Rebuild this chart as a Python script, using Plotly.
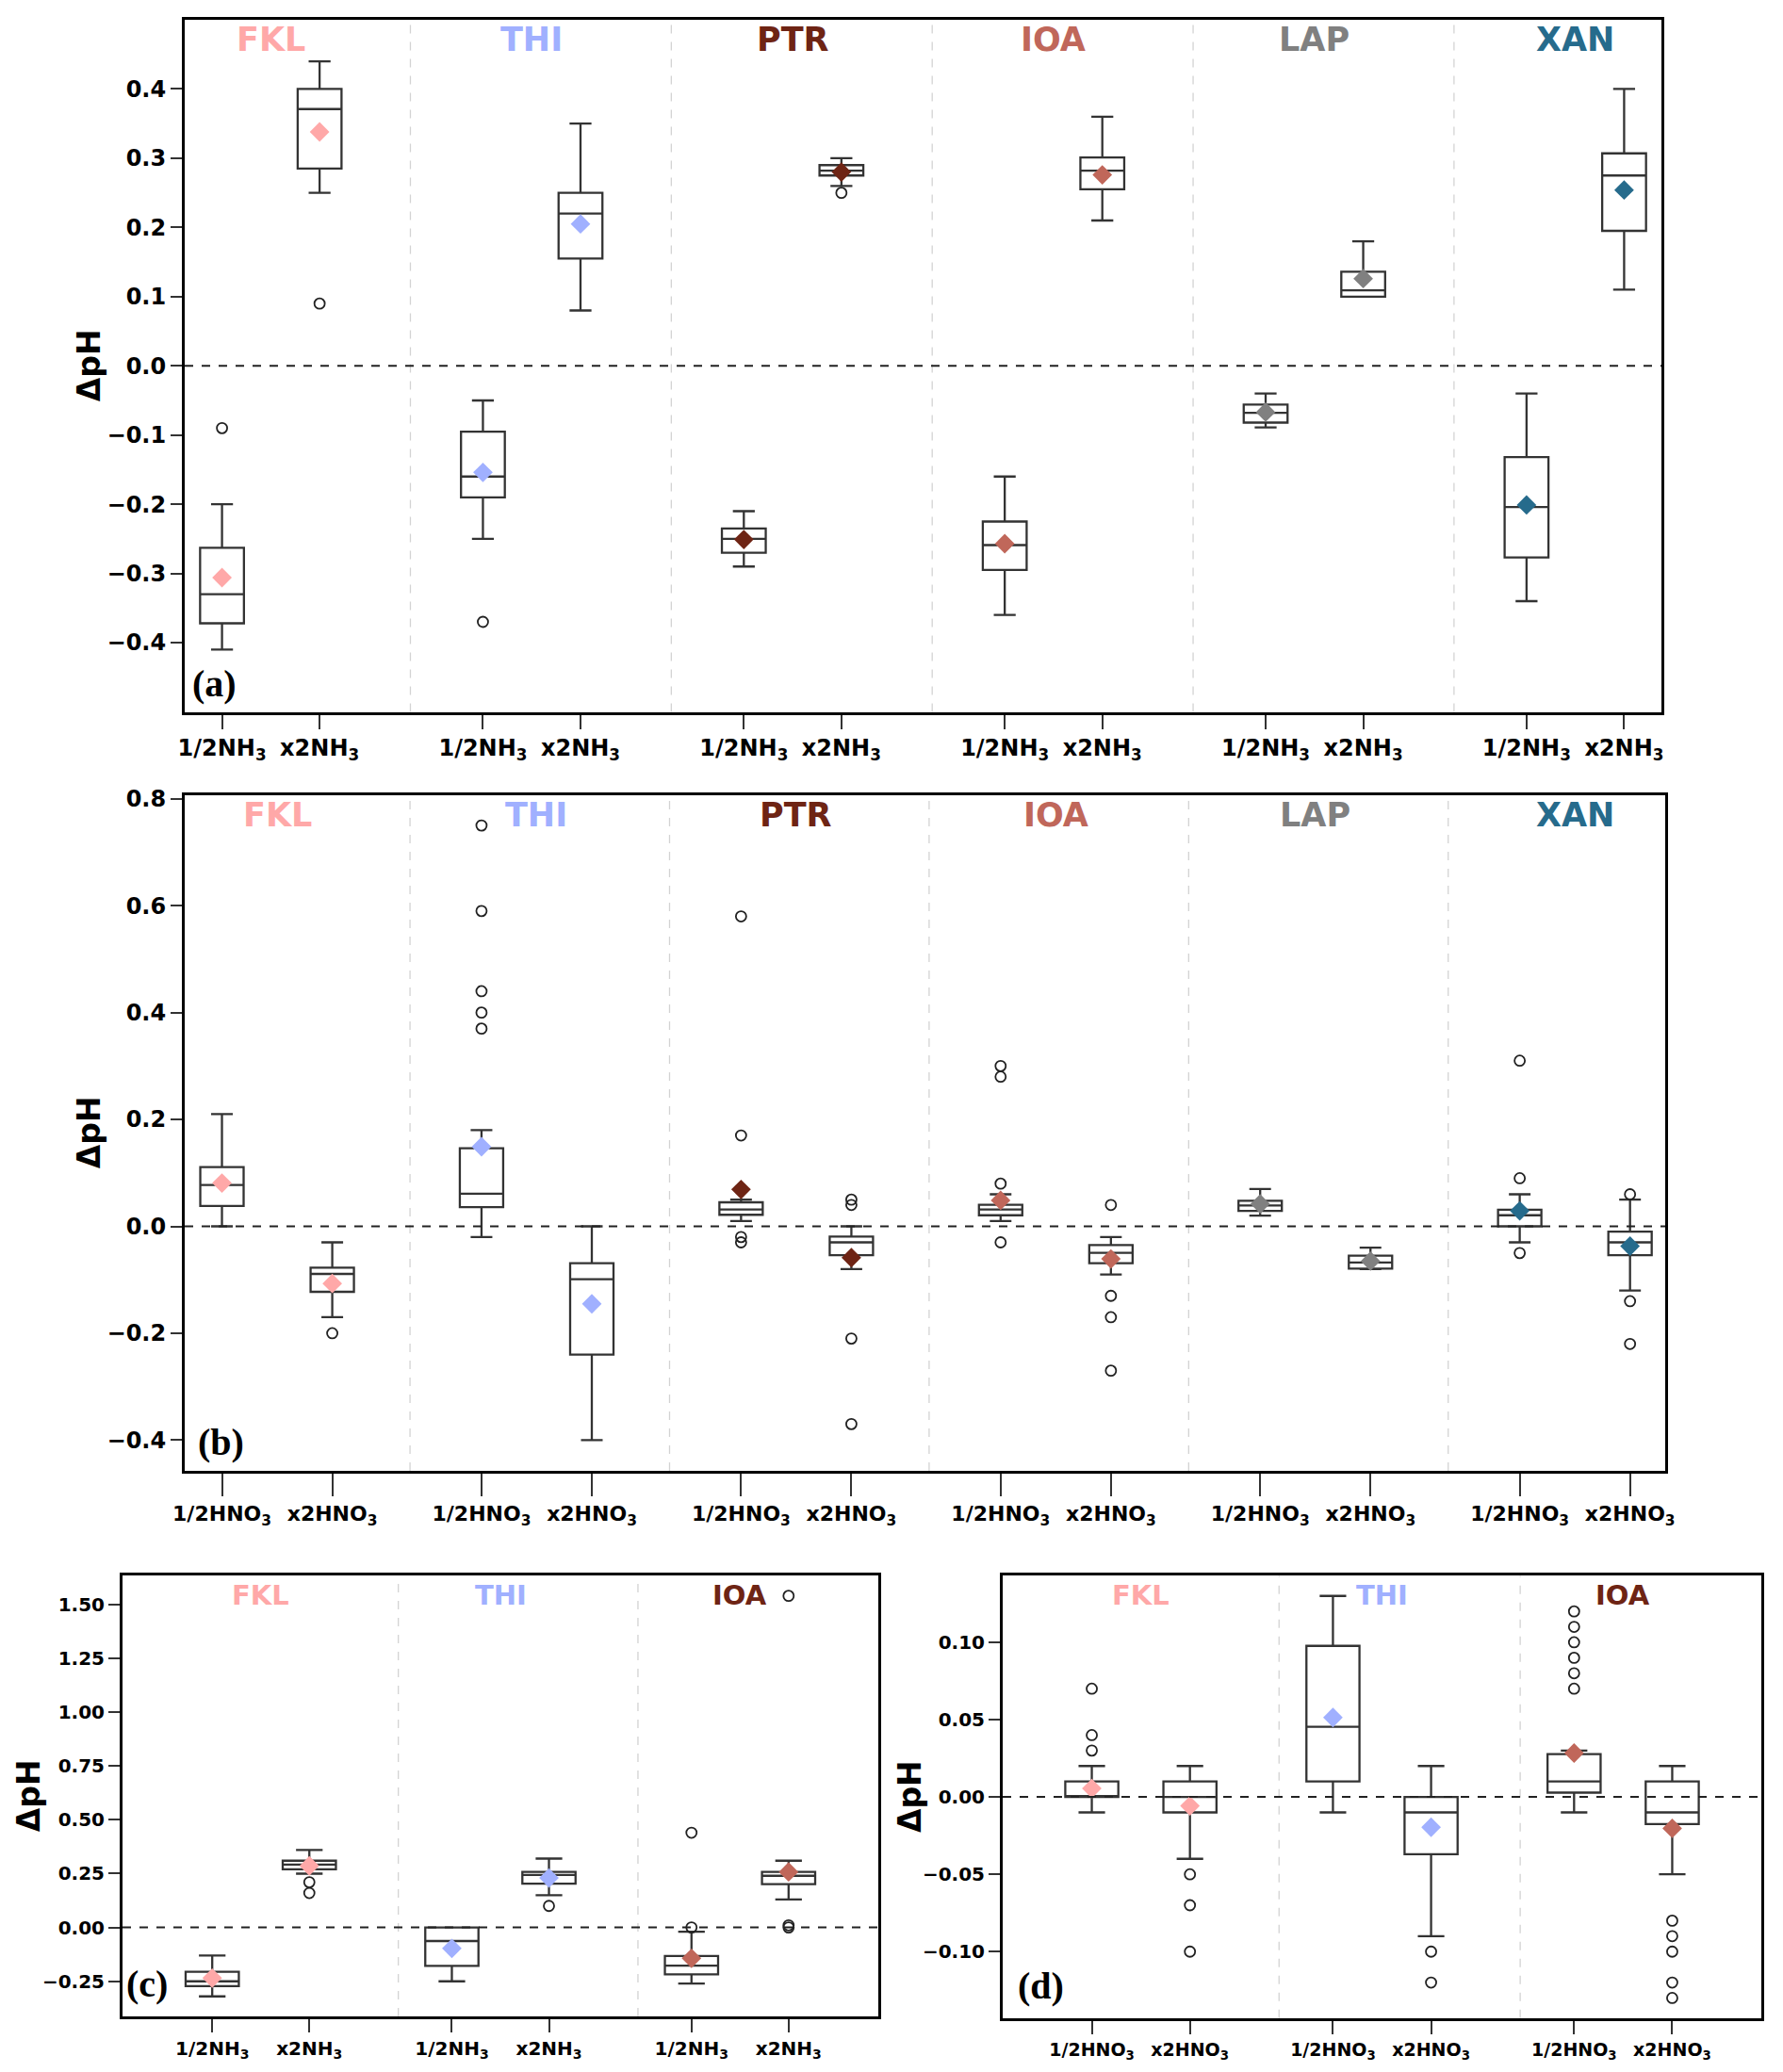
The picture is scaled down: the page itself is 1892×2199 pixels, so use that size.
#!/usr/bin/env python
"""
Box plots of pH change for the NH3 / HNO3 perturbation runs, four panels
"""

import plotly.graph_objs as go

W, H = 1892, 2199
PAGE_PAD = 8  # the page body margin pushes the plot this far right/down

# colours of the sites
SITE_COLORS = {"FKL": "#FFA8A8", "THI": "#A0B0FF", "PTR": "#6E2414",
               "IOA": "#C0675A", "LAP": "#808080", "XAN": "#266B8C"}

SITES_AB = ["FKL", "THI", "PTR", "IOA", "LAP", "XAN"]
SITES_CD = ["FKL", "THI", "IOA"]

NH3_LABELS = ["1/2NH<sub>3</sub>", "x2NH<sub>3</sub>"]
HNO3_LABELS = ["1/2HNO<sub>3</sub>", "x2HNO<sub>3</sub>"]

# panel (a): order FKL 1/2, FKL x2, THI 1/2, THI x2, ...
A_LO = [-0.41, 0.25, -0.25, 0.08, -0.29, 0.26, -0.36, 0.21, -0.089, 0.10, -0.34, 0.11]
A_Q1 = [-0.372, 0.285, -0.19, 0.155, -0.27, 0.275, -0.295, 0.255, -0.082, 0.10, -0.277, 0.195]
A_MED = [-0.33, 0.371, -0.16, 0.22, -0.25, 0.282, -0.259, 0.282, -0.068, 0.109, -0.204, 0.275]
A_Q3 = [-0.263, 0.40, -0.095, 0.25, -0.235, 0.29, -0.225, 0.301, -0.056, 0.136, -0.132, 0.307]
A_HI = [-0.20, 0.44, -0.05, 0.35, -0.21, 0.30, -0.16, 0.36, -0.04, 0.18, -0.04, 0.40]
A_MEAN = [-0.306, 0.338, -0.154, 0.205, -0.251, 0.28, -0.257, 0.276, -0.067, 0.126, -0.201, 0.254]
A_OUT = [[-0.09], [0.09], [-0.37], [], [], [0.25], [], [], [], [], [], []]

# panel (b)
B_LO = [0.0, -0.17, -0.02, -0.40, 0.01, -0.08, 0.01, -0.09, 0.02, -0.08, -0.03, -0.12]
B_Q1 = [0.038, -0.1225, 0.036, -0.24, 0.0216, -0.054, 0.0207, -0.069, 0.029, -0.079, 0.0, -0.054]
B_MED = [0.0775, -0.089, 0.061, -0.099, 0.0315, -0.03, 0.0315, -0.0495, 0.039, -0.0676, 0.0207, -0.03]
B_Q3 = [0.111, -0.0775, 0.146, -0.069, 0.045, -0.019, 0.0405, -0.035, 0.048, -0.055, 0.031, -0.01]
B_HI = [0.21, -0.03, 0.18, 0.0, 0.05, 0.0, 0.06, -0.02, 0.07, -0.04, 0.06, 0.05]
B_MEAN = [0.081, -0.107, 0.149, -0.145, 0.069, -0.0586, 0.0486, -0.061, 0.042, -0.065, 0.029, -0.037]
B_OUT = [[], [-0.20], [0.75, 0.59, 0.44, 0.40, 0.37], [], [0.58, 0.17, -0.02, -0.03],
         [0.05, 0.04, -0.21, -0.37], [0.30, 0.28, 0.08, -0.03], [0.04, -0.13, -0.17, -0.27],
         [], [], [0.31, 0.09, -0.05], [0.06, -0.14, -0.22]]

# panel (c)
C_LO = [-0.32, 0.25, -0.25, 0.15, -0.26, 0.13]
C_Q1 = [-0.272, 0.27, -0.178, 0.203, -0.218, 0.201]
C_MED = [-0.25, 0.292, -0.063, 0.244, -0.177, 0.24]
C_Q3 = [-0.206, 0.31, 0.0, 0.258, -0.132, 0.258]
C_HI = [-0.13, 0.36, 0.0, 0.32, -0.02, 0.31]
C_MEAN = [-0.235, 0.286, -0.097, 0.23, -0.143, 0.258]
C_OUT = [[], [0.21, 0.16], [], [0.10], [0.44, 0.0], [1.54, 0.01, 0.0]]

# panel (d)
D_LO = [-0.01, -0.04, -0.01, -0.09, -0.01, -0.05]
D_Q1 = [0.0, -0.01, 0.01, -0.037, 0.0028, -0.0175]
D_MED = [0.0, 0.0, 0.0454, -0.01, 0.01, -0.01]
D_Q3 = [0.01, 0.01, 0.0977, 0.0, 0.0277, 0.01]
D_HI = [0.02, 0.02, 0.13, 0.02, 0.03, 0.02]
D_MEAN = [0.0055, -0.0058, 0.0514, -0.0196, 0.0284, -0.0203]
D_OUT = [[0.07, 0.04, 0.03], [-0.05, -0.07, -0.10], [], [-0.10, -0.12],
         [0.12, 0.11, 0.10, 0.09, 0.08, 0.07], [-0.08, -0.09, -0.10, -0.12, -0.13]]

FONT = "DejaVu Sans"
BOXLINE = "#333333"


def px_x(x):
    return (x - PAGE_PAD) / W


def px_domain_x(left, right):
    return [px_x(left), px_x(right)]


def px_domain_y(top, bottom):
    return [1 - (bottom - PAGE_PAD) / H, 1 - (top - PAGE_PAD) / H]


PANELS = [
    dict(name="a", sites=SITES_AB, labels=NH3_LABELS, label_colors=None,
         lo=A_LO, q1=A_Q1, med=A_MED, q3=A_Q3, hi=A_HI, mean=A_MEAN, out=A_OUT,
         dx=px_domain_x(196, 1763), dy=px_domain_y(21, 755.5),
         off=0.187, width=0.168, sep=0.535, xr=[-0.33, 5.33], yr=[-0.5, 0.5],
         yticks=[-0.4, -0.3, -0.2, -0.1, 0.0, 0.1, 0.2, 0.3, 0.4], fmt=".1f",
         fs=24, xfs=24, xtl=15, tfs=35, ylab_x=94, letter_shift=(6, 6)),
    dict(name="b", sites=SITES_AB, labels=HNO3_LABELS, label_colors=None,
         lo=B_LO, q1=B_Q1, med=B_MED, q3=B_Q3, hi=B_HI, mean=B_MEAN, out=B_OUT,
         dx=px_domain_x(196, 1767), dy=px_domain_y(843.5, 1561),
         off=0.2125, width=0.167, sep=0.512, xr=[-0.356, 5.348], yr=[-0.4575, 0.8075],
         yticks=[-0.4, -0.2, 0.0, 0.2, 0.4, 0.6, 0.8], fmt=".1f",
         fs=24, xfs=22, xtl=24, tfs=35, ylab_x=94, letter_shift=(12, 6)),
    dict(name="c", sites=SITES_CD, labels=NH3_LABELS, label_colors={"IOA": "#6E2414"},
         lo=C_LO, q1=C_Q1, med=C_MED, q3=C_Q3, hi=C_HI, mean=C_MEAN, out=C_OUT,
         dx=px_domain_x(130, 932), dy=px_domain_y(1672.4, 2140),
         off=0.2026, width=0.222, sep=0.574, xr=[-0.577, 2.577], yr=[-0.413, 1.633],
         yticks=[-0.25, 0.0, 0.25, 0.5, 0.75, 1.0, 1.25, 1.5], fmt=".2f",
         fs=20, xfs=20, xtl=14, tfs=29, ylab_x=30, letter_shift=(2, 10)),
    dict(name="d", sites=SITES_CD, labels=HNO3_LABELS, label_colors={"IOA": "#6E2414"},
         lo=D_LO, q1=D_Q1, med=D_MED, q3=D_Q3, hi=D_HI, mean=D_MEAN, out=D_OUT,
         dx=px_domain_x(1064, 1869), dy=px_domain_y(1672.4, 2141.8),
         off=0.2035, width=0.22, sep=0.573, xr=[-0.573, 2.573], yr=[-0.143, 0.143],
         yticks=[-0.10, -0.05, 0.0, 0.05, 0.10], fmt=".2f",
         fs=20, xfs=19, xtl=14, tfs=29, ylab_x=965, letter_shift=(14, 10)),
]


def main():
    fig = go.Figure()
    layout = dict(width=W, height=H, margin=dict(l=0, r=0, t=0, b=0, autoexpand=False),
                  paper_bgcolor="white", plot_bgcolor="white", showlegend=False,
                  font=dict(family=FONT, color="black"))
    annotations = []
    shapes = []

    for i, p in enumerate(PANELS):
        n = i + 1
        xa = "x" if n == 1 else "x%d" % n
        ya = "y" if n == 1 else "y%d" % n
        ngroups = len(p["sites"])

        pos = []
        for g in range(ngroups):
            pos += [g - p["off"], g + p["off"]]

        fig.add_trace(go.Box(
            x=pos, q1=p["q1"], median=p["med"], q3=p["q3"],
            lowerfence=p["lo"], upperfence=p["hi"], width=p["width"],
            whiskerwidth=0.5, fillcolor="white", boxpoints=False,
            line=dict(color=BOXLINE, width=2.3), xaxis=xa, yaxis=ya,
            hoverinfo="skip"))

        ox, oy = [], []
        for k, vals in enumerate(p["out"]):
            ox += [pos[k]] * len(vals)
            oy += vals
        fig.add_trace(go.Scatter(
            x=ox, y=oy, mode="markers", xaxis=xa, yaxis=ya,
            marker=dict(symbol="circle-open", size=11, color="#222222",
                        line=dict(width=1.8))))

        mcolors = []
        for site in p["sites"]:
            mcolors += [SITE_COLORS[site]] * 2
        fig.add_trace(go.Scatter(
            x=pos, y=p["mean"], mode="markers", xaxis=xa, yaxis=ya,
            marker=dict(symbol="diamond", size=16, color=mcolors)))

        layout["xaxis" if n == 1 else "xaxis%d" % n] = dict(
            domain=p["dx"], anchor=ya, range=p["xr"], tickmode="array",
            tickvals=pos, ticktext=p["labels"] * ngroups, ticks="outside",
            ticklen=p["xtl"], tickwidth=1.8, tickcolor="#333333",
            tickfont=dict(family=FONT, size=p["xfs"], color="black", weight="bold"),
            showline=True, linecolor="black", linewidth=3, mirror=True,
            showgrid=False, zeroline=False, automargin=False)
        layout["yaxis" if n == 1 else "yaxis%d" % n] = dict(
            domain=p["dy"], anchor=xa, range=p["yr"], tickmode="array",
            tickvals=p["yticks"], tickformat=p["fmt"], ticks="outside",
            ticklen=12, tickwidth=1.8, tickcolor="#333333",
            tickfont=dict(family=FONT, size=p["fs"], color="black", weight="bold"),
            showline=True, linecolor="black", linewidth=3, mirror=True,
            showgrid=False, zeroline=False, automargin=False)

        for g in range(ngroups - 1):
            shapes.append(dict(type="line", xref=xa, yref=ya + " domain",
                               x0=g + p["sep"], x1=g + p["sep"], y0=0, y1=1,
                               line=dict(color="#D3D3D3", width=1.3, dash="dash"),
                               layer="below"))
        shapes.append(dict(type="line", xref=xa + " domain", yref=ya,
                           x0=0, x1=1, y0=0, y1=0,
                           line=dict(color="#222222", width=2, dash="dash"),
                           layer="above"))

        lcolors = p["label_colors"] or {}
        for g, site in enumerate(p["sites"]):
            annotations.append(dict(
                xref=xa, yref=ya + " domain", x=g, y=1, yshift=-21,
                yanchor="middle", showarrow=False, text=site,
                font=dict(family=FONT, size=p["tfs"], weight="bold",
                          color=lcolors.get(site, SITE_COLORS[site]))))

        annotations.append(dict(
            xref=xa + " domain", yref=ya + " domain", x=0, y=0,
            xanchor="left", yanchor="bottom", xshift=p["letter_shift"][0],
            yshift=p["letter_shift"][1], showarrow=False,
            text="<b>(%s)</b>" % p["name"],
            font=dict(family="Liberation Serif", size=40, color="black")))

        annotations.append(dict(
            xref="paper", yref=ya + " domain", x=px_x(p["ylab_x"]), y=0.5,
            xanchor="center", yanchor="middle", textangle=-90, showarrow=False,
            text="ΔpH", font=dict(family=FONT, size=33, weight="bold", color="black")))

    layout["annotations"] = annotations
    layout["shapes"] = shapes
    fig.update_layout(**layout)
    fig.write_html("out.html")


if __name__ == "__main__":
    main()
